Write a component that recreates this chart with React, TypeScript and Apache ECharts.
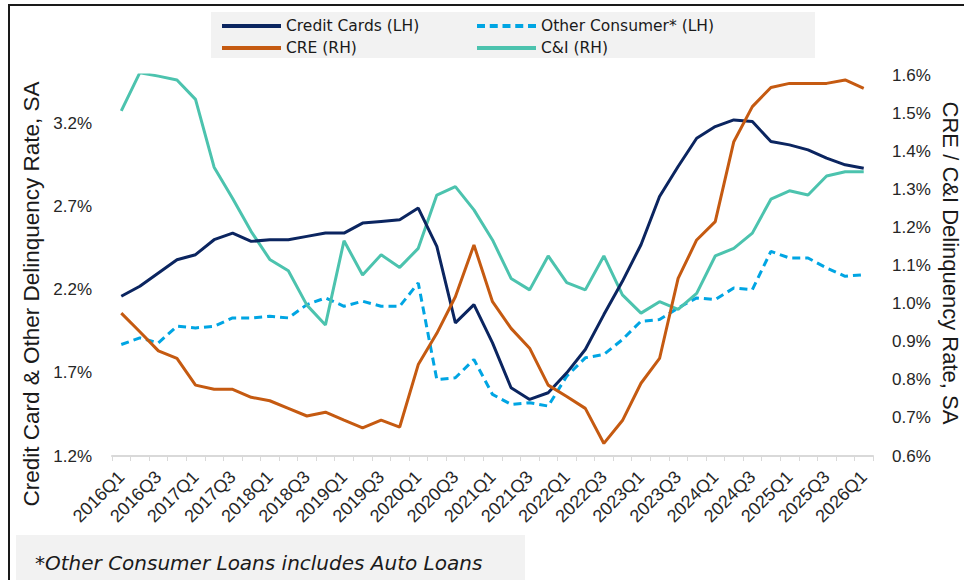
import React, { useEffect, useRef } from "react";
import * as echarts from "echarts";

const quarters: string[] = [];
for (let y = 2016; y <= 2026; y++) {
  for (let q = 1; q <= 4; q++) {
    if (y === 2026 && q > 1) break;
    quarters.push(`${y}Q${q}`);
  }
}

const creditCards = [
  2.16, 2.22, 2.3, 2.38, 2.41, 2.5, 2.54, 2.49, 2.5, 2.5, 2.52, 2.54, 2.54, 2.6, 2.61, 2.62, 2.69,
  2.46, 2.0, 2.11, 1.88, 1.61, 1.54, 1.58, 1.7, 1.84, 2.05, 2.25, 2.47, 2.76, 2.94, 3.11, 3.18,
  3.22, 3.21, 3.09, 3.07, 3.04, 2.99, 2.95, 2.93,
];
const otherConsumer = [
  1.87, 1.91, 1.88, 1.98, 1.97, 1.98, 2.03, 2.03, 2.04, 2.03, 2.11, 2.15, 2.1, 2.13, 2.1, 2.1, 2.24,
  1.66, 1.67, 1.78, 1.57, 1.51, 1.52, 1.5, 1.68, 1.79, 1.81, 1.9, 2.01, 2.02, 2.09, 2.15, 2.14,
  2.21, 2.2, 2.43, 2.39, 2.39, 2.33, 2.28, 2.29,
];
const cre = [
  0.975, 0.926, 0.876, 0.856, 0.786, 0.775, 0.775, 0.754, 0.745, 0.725, 0.705, 0.715, 0.694, 0.674,
  0.694, 0.676, 0.84, 0.922, 1.018, 1.154, 1.005, 0.935, 0.883, 0.786, 0.756, 0.725, 0.633, 0.693,
  0.791, 0.856, 1.066, 1.167, 1.215, 1.425, 1.517, 1.567, 1.578, 1.578, 1.578, 1.587, 1.565,
];
const cAndI = [
  1.506, 1.606, 1.597, 1.587, 1.536, 1.358, 1.276, 1.189, 1.116, 1.086, 0.996, 0.944, 1.165, 1.075,
  1.128, 1.095, 1.145, 1.285, 1.307, 1.246, 1.167, 1.066, 1.036, 1.125, 1.055, 1.036, 1.125, 1.023,
  0.975, 1.005, 0.985, 1.027, 1.125, 1.145, 1.185, 1.274, 1.296, 1.285, 1.335, 1.346, 1.346,
];

const seriesNames = ["Credit Cards (LH)", "Other Consumer* (LH)", "CRE (RH)", "C&I (RH)"];
const leftTitle = "Credit Card & Other Delinquency Rate, SA";
const rightTitle = "CRE / C&I Delinquency Rate, SA";
const footnote = "*Other Consumer Loans includes Auto Loans";

const NAVY = "#0b2560";
const LIGHTBLUE = "#00a5e3";
const ORANGE = "#c55a11";
const TEAL = "#4cc3ae";

const DASH_ICON =
  "path://M0,0h8v4h-8z M12.75,0h8v4h-8z M25.5,0h8v4h-8z M38.25,0h8v4h-8z M51,0h8v4h-8z";

export default function App() {
  const ref = useRef<HTMLDivElement>(null);
  useEffect(() => {
    if (!ref.current) return;
    const chart = echarts.init(ref.current, undefined, { renderer: "svg" });
    const axisFont = "Liberation Sans";
    const legendFont = "DejaVu Sans";
    const legendText = {
      fontFamily: legendFont,
      fontSize: 15.5,
      lineHeight: 18,
      color: "#1a1a1a",
    };
    const legendBase = {
      orient: "vertical",
      top: 17,
      padding: 0,
      itemWidth: 59,
      itemHeight: 4,
      itemGap: 4,
      textStyle: legendText,
      selectedMode: false,
    };
    chart.setOption({
      animation: false,
      backgroundColor: "#ffffff",
      grid: { left: 112, right: 91, top: 75, bottom: 124, containLabel: false },
      legend: [
        {
          ...legendBase,
          left: 222,
          data: [
            { name: seriesNames[0], icon: "rect" },
            { name: seriesNames[2], icon: "rect" },
          ],
        },
        {
          ...legendBase,
          left: 477,
          data: [
            { name: seriesNames[1], icon: DASH_ICON },
            { name: seriesNames[3], icon: "rect" },
          ],
        },
      ],
      xAxis: {
        type: "category",
        data: quarters,
        boundaryGap: true,
        axisLine: { lineStyle: { color: "#d9d9d9", width: 2 } },
        axisTick: { show: true, interval: 0, length: 5, lineStyle: { color: "#d9d9d9", width: 1 } },
        axisLabel: {
          interval: 1,
          rotate: 45,
          margin: 18,
          fontFamily: axisFont,
          fontSize: 18,
          color: "#262626",
        },
        splitLine: { show: false },
      },
      yAxis: [
        {
          type: "value",
          min: 1.2,
          max: 3.49,
          interval: 0.5,
          position: "left",
          axisLine: { show: false },
          axisTick: { show: false },
          splitLine: { show: false },
          axisLabel: {
            showMaxLabel: false,
            margin: 20,
            fontFamily: axisFont,
            fontSize: 17,
            color: "#262626",
            formatter: (v: number) => v.toFixed(1) + "%",
          },
        },
        {
          type: "value",
          min: 0.6,
          max: 1.6,
          interval: 0.1,
          position: "right",
          axisLine: { show: false },
          axisTick: { show: false },
          splitLine: { show: false },
          axisLabel: {
            margin: 19,
            fontFamily: axisFont,
            fontSize: 17,
            color: "#262626",
            formatter: (v: number) => v.toFixed(1) + "%",
          },
        },
      ],
      series: [
        {
          name: seriesNames[0],
          type: "line",
          yAxisIndex: 0,
          data: creditCards,
          symbol: "none",
          lineStyle: { color: NAVY, width: 3 },
          itemStyle: { color: NAVY },
          z: 3,
        },
        {
          name: seriesNames[1],
          type: "line",
          yAxisIndex: 0,
          data: otherConsumer,
          symbol: "none",
          lineStyle: { color: LIGHTBLUE, width: 3, type: [8, 5] },
          itemStyle: { color: LIGHTBLUE },
          z: 2,
        },
        {
          name: seriesNames[2],
          type: "line",
          yAxisIndex: 1,
          data: cre,
          symbol: "none",
          lineStyle: { color: ORANGE, width: 3 },
          itemStyle: { color: ORANGE },
          z: 4,
        },
        {
          name: seriesNames[3],
          type: "line",
          yAxisIndex: 1,
          data: cAndI,
          symbol: "none",
          lineStyle: { color: TEAL, width: 3 },
          itemStyle: { color: TEAL },
          z: 2,
        },
      ],
      graphic: [
        {
          type: "rect",
          z: -10,
          silent: true,
          shape: { x: 211, y: 12, width: 604, height: 46 },
          style: { fill: "#f2f2f2" },
        },
        {
          type: "rect",
          z: -10,
          silent: true,
          shape: { x: 16, y: 535, width: 509, height: 60 },
          style: { fill: "#f2f2f2" },
        },
        {
          type: "rect",
          z: 10,
          silent: true,
          shape: { x: 9, y: 5, width: 1100, height: 700 },
          style: { fill: "none", stroke: "#1a1a1a", lineWidth: 2 },
        },
        {
          type: "text",
          x: 35,
          y: 563,
          style: {
            text: footnote,
            fontFamily: legendFont,
            fontStyle: "italic",
            fontSize: 20,
            fill: "#1a1a1a",
            textAlign: "left",
            textVerticalAlign: "middle",
          },
        },
        {
          type: "text",
          x: 31,
          y: 294,
          rotation: Math.PI / 2,
          style: {
            text: leftTitle,
            fontFamily: axisFont,
            fontSize: 22.5,
            fill: "#1a1a1a",
            textAlign: "center",
            textVerticalAlign: "middle",
          },
        },
        {
          type: "text",
          x: 950,
          y: 263,
          rotation: -Math.PI / 2,
          style: {
            text: rightTitle,
            fontFamily: axisFont,
            fontSize: 22,
            fill: "#1a1a1a",
            textAlign: "center",
            textVerticalAlign: "middle",
          },
        },
      ],
    });
    return () => chart.dispose();
  }, []);
  return (
    <div
      ref={ref}
      style={{ position: "fixed", left: 0, top: 0, width: 964, height: 580, background: "#fff" }}
    />
  );
}
